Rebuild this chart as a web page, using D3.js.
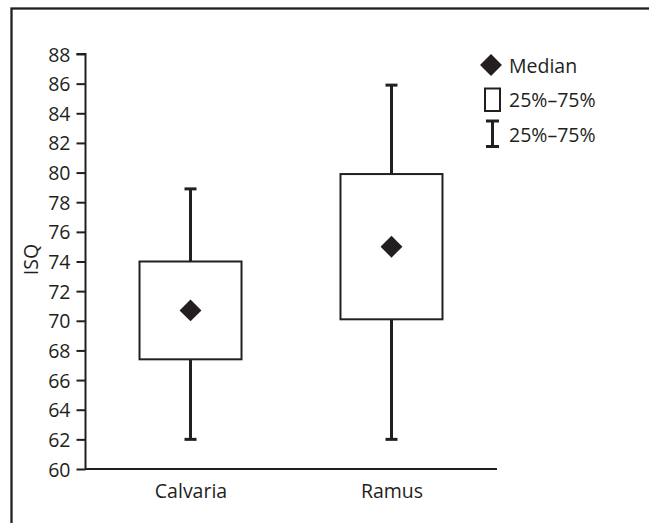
<!DOCTYPE html>
<html><head><meta charset="utf-8">
<script src="https://cdn.jsdelivr.net/npm/d3@7"></script>
<style>
html,body{margin:0;padding:0;background:#fff;}
text{font-family:"Open Sans", Lato, sans-serif;fill:#231f20;}
</style></head>
<body>
<svg id="chart" width="649" height="523"></svg>
<script>
const categories = ["Calvaria", "Ramus"];
const whiskerLow = [62, 62];
const q1 = [67.4, 70.1];
const median = [70.7, 75.0];
const q3 = [74.0, 79.9];
const whiskerHigh = [78.9, 85.9];
const yTicks = [60,62,64,66,68,70,72,74,76,78,80,82,84,86,88];
const legendLabels = ["Median", "25%\u201375%", "25%\u201375%"];
const yLabel = "ISQ";

const ink = "#231f20";
const fs = "19.5px";
const ff = "'Open Sans', Lato, sans-serif";
const svg = d3.select("#chart");

// outer frame (extends past the right and bottom edges)
svg.append("rect").attr("x", 11.5).attr("y", 8.5).attr("width", 700).attr("height", 600)
  .attr("fill", "none").attr("stroke", ink).attr("stroke-width", 2.3);

const x = d3.scalePoint().domain(categories).range([85, 497]).padding(0.525);
const y = d3.scaleLinear().domain([60, 88]).range([469, 54]);

// y axis
const yAxis = d3.axisLeft(y).tickValues(yTicks).tickSize(9).tickPadding(6).tickFormat(d3.format("d"));
const gy = svg.append("g").attr("transform", "translate(85.5,0)").call(yAxis);
gy.select(".domain").attr("stroke", ink).attr("stroke-width", 2).attr("d", `M-9,${y(88)}H0V${y(60)}`);
gy.selectAll(".tick line").attr("stroke", ink).attr("stroke-width", 2);
gy.selectAll(".tick text").attr("font-size", fs).attr("font-family", ff).attr("fill", ink).attr("dy", "0.36em");

// x axis
const xAxis = d3.axisBottom(x).tickSize(0).tickPadding(15);
const gx = svg.append("g").attr("transform", `translate(0,${y(60)})`).call(xAxis);
gx.select(".domain").attr("stroke", ink).attr("stroke-width", 2).attr("d", `M85,0H497`);
gx.selectAll(".tick text").attr("font-size", fs).attr("font-family", ff).attr("fill", ink);

// y label
svg.append("text").attr("transform", `translate(37.5,${(y(60)+y(88))/2 - 2}) rotate(-90)`)
  .attr("text-anchor", "middle").attr("font-size", fs).text(yLabel);

const boxW = 102;
const capW = 12;
const data = categories.map((c, i) => ({c, lo: whiskerLow[i], q1: q1[i], med: median[i], q3: q3[i], hi: whiskerHigh[i]}));
const g = svg.append("g").selectAll("g").data(data).join("g");

// whiskers
g.append("line").attr("x1", d => x(d.c)).attr("x2", d => x(d.c)).attr("y1", d => y(d.hi)).attr("y2", d => y(d.q3))
  .attr("stroke", ink).attr("stroke-width", 3);
g.append("line").attr("x1", d => x(d.c)).attr("x2", d => x(d.c)).attr("y1", d => y(d.q1)).attr("y2", d => y(d.lo))
  .attr("stroke", ink).attr("stroke-width", 3);
g.append("line").attr("x1", d => x(d.c) - capW/2).attr("x2", d => x(d.c) + capW/2).attr("y1", d => y(d.hi)).attr("y2", d => y(d.hi))
  .attr("stroke", ink).attr("stroke-width", 3);
g.append("line").attr("x1", d => x(d.c) - capW/2).attr("x2", d => x(d.c) + capW/2).attr("y1", d => y(d.lo)).attr("y2", d => y(d.lo))
  .attr("stroke", ink).attr("stroke-width", 3);
// boxes
g.append("rect").attr("x", d => x(d.c) - boxW/2).attr("width", boxW)
  .attr("y", d => y(d.q3)).attr("height", d => y(d.q1) - y(d.q3))
  .attr("fill", "#fff").attr("stroke", ink).attr("stroke-width", 2);
// medians
const diamond = d3.symbol(d3.symbolSquare, 240);
g.append("path").attr("d", diamond).attr("fill", ink)
  .attr("transform", d => `translate(${x(d.c)},${y(d.med)}) rotate(45)`);

// legend
const lg = svg.append("g");
lg.append("path").attr("d", diamond).attr("fill", ink).attr("transform", "translate(491,65) rotate(45)");
lg.append("rect").attr("x", 485).attr("y", 88.5).attr("width", 15).attr("height", 22.5)
  .attr("fill", "none").attr("stroke", ink).attr("stroke-width", 2);
lg.append("line").attr("x1", 492.5).attr("x2", 492.5).attr("y1", 121).attr("y2", 146.5).attr("stroke", ink).attr("stroke-width", 3);
lg.append("line").attr("x1", 486).attr("x2", 499).attr("y1", 121).attr("y2", 121).attr("stroke", ink).attr("stroke-width", 3);
lg.append("line").attr("x1", 486).attr("x2", 499).attr("y1", 146.5).attr("y2", 146.5).attr("stroke", ink).attr("stroke-width", 3);
const ly = [72.7, 106.5, 141.5];
lg.selectAll("text.leg").data(legendLabels).join("text").attr("class", "leg")
  .attr("x", 509).attr("y", (d, i) => ly[i]).attr("font-size", fs).text(d => d);
</script>
</body></html>
